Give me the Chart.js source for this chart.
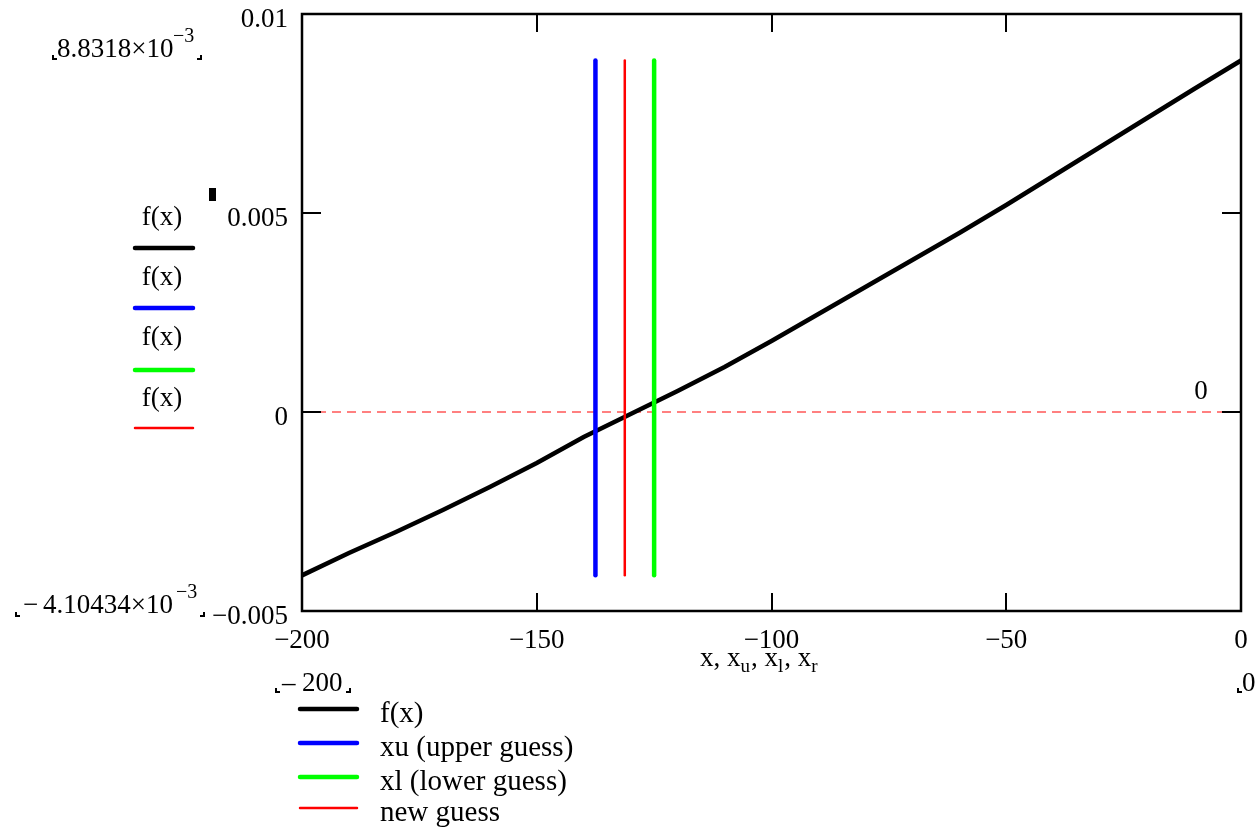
<!DOCTYPE html>
<html>
<head>
<meta charset="utf-8">
<script src="https://cdn.jsdelivr.net/npm/chart.js@4.4.0/dist/chart.umd.min.js"></script>
<style>
  html, body { margin: 0; padding: 0; background: #fff; }
  #wrap { width: 1257px; height: 828px; }
</style>
</head>
<body>
<div id="wrap"><canvas id="bisectChart" width="1257" height="828"></canvas></div>
<script>
// f(x) sampled every 10 along x
const xValues = [-200, -190, -180, -170, -160, -150, -140, -130, -120, -110, -100,
  -90, -80, -70, -60, -50, -40, -30, -20, -10, 0];
const fValues = [-4.10434e-3, -3.543e-3, -3.015e-3, -2.462e-3, -1.884e-3, -1.281e-3,
  -0.628e-3, -0.050e-3, 0.528e-3, 1.131e-3, 1.784e-3, 2.462e-3, 3.141e-3, 3.819e-3,
  4.497e-3, 5.201e-3, 5.930e-3, 6.658e-3, 7.387e-3, 8.116e-3, 8.8318e-3];

// guesses, drawn as vertical traces from min f to max f
const xuLine = [-137.5, -137.5];
const xlLine = [-125, -125];
const xrLine = [-131.25, -131.25];
const guessSpan = [-4.10434e-3, 8.8318e-3];

// marker at y = 0
const zeroX = [-200, 0];
const zeroY = [0, 0];

const xTicks = [-200, -150, -100, -50, 0];
const xTickLabels = ['\u2212200', '\u2212150', '\u2212100', '\u221250', '0'];
const yTicks = [-0.005, 0, 0.005, 0.01];
const yTickLabels = ['\u22120.005', '0', '0.005', '0.01'];

const seriesNames = ['f(x)', 'xu (upper guess)', 'xl (lower guess)', 'new guess'];
const seriesColors = ['#000000', '#0000ff', '#00ff00', '#ff0000'];
const seriesWidths = [4.5, 4.5, 4.5, 2.5];

const FONT = '"Liberation Serif", "Times New Roman", serif';

function pts(xs, ys) {
  return xs.map((x, i) => ({ x: x, y: ys[i] }));
}

const datasets = [
  { label: seriesNames[0], data: pts(xValues, fValues), order: 5 },
  { label: seriesNames[1], data: pts(xuLine, guessSpan), order: 3 },
  { label: seriesNames[2], data: pts(xlLine, guessSpan), order: 2 },
  { label: seriesNames[3], data: pts(xrLine, guessSpan), order: 1 }
].map((d, i) => Object.assign(d, {
  showLine: true,
  borderColor: seriesColors[i],
  borderWidth: seriesWidths[i],
  borderCapStyle: 'round',
  pointRadius: 0,
  tension: 0
}));

datasets.push({
  label: 'zero',
  data: pts(zeroX, zeroY),
  showLine: true,
  borderColor: '#ff8080',
  borderWidth: 2,
  borderDash: [9, 6],
  pointRadius: 0,
  order: 10
});

// frame, inner ticks and the Mathcad-style side texts
const mathcadDecor = {
  id: 'mathcadDecor',
  afterDraw(chart) {
    const ctx = chart.ctx;
    const a = chart.chartArea;
    const xs = chart.scales.x, ys = chart.scales.y;
    ctx.save();

    // inner tick marks
    ctx.strokeStyle = '#000';
    ctx.lineWidth = 2;
    ctx.beginPath();
    xTicks.slice(1, -1).forEach(v => {
      const px = Math.round(xs.getPixelForValue(v));
      ctx.moveTo(px, a.bottom); ctx.lineTo(px, a.bottom - 18);
      ctx.moveTo(px, a.top); ctx.lineTo(px, a.top + 18);
    });
    yTicks.slice(1, -1).forEach(v => {
      const py = Math.round(ys.getPixelForValue(v));
      ctx.moveTo(a.left, py); ctx.lineTo(a.left + 19, py);
      ctx.moveTo(a.right, py); ctx.lineTo(a.right - 19, py);
    });
    ctx.stroke();

    // frame
    ctx.lineWidth = 2.5;
    ctx.strokeRect(a.left, a.top, a.right - a.left, a.bottom - a.top);

    ctx.fillStyle = '#000';
    ctx.textBaseline = 'alphabetic';
    ctx.textAlign = 'left';

    function corner(x, y, right) {
      ctx.fillRect(x, y - 4, 2, 5);
      ctx.fillRect(right ? x - 3 : x, y - 1, 5, 2);
    }

    // y-range limits on the left
    ctx.font = '27px ' + FONT;
    ctx.fillText('8.8318\u00d710', 57, 57);
    ctx.font = '20px ' + FONT;
    ctx.fillText('\u22123', 173, 42);
    corner(52, 59, false); corner(200, 59, true);

    ctx.font = '27px ' + FONT;
    ctx.fillText('\u2212', 23, 613);
    ctx.fillText('4.10434\u00d710', 43, 613);
    ctx.font = '20px ' + FONT;
    ctx.fillText('\u22123', 176, 598);
    corner(15, 616, false); corner(203, 616, true);

    // trace labels on the left
    const traceText = [225, 285, 345, 406];
    const traceLine = [248, 308, 370, 428];
    ctx.font = '27px ' + FONT;
    ctx.textAlign = 'center';
    for (let i = 0; i < 4; i++) {
      ctx.fillText('f(x)', 162, traceText[i]);
      ctx.strokeStyle = seriesColors[i];
      ctx.lineWidth = seriesWidths[i];
      ctx.lineCap = 'round';
      ctx.beginPath();
      ctx.moveTo(135, traceLine[i]); ctx.lineTo(193, traceLine[i]);
      ctx.stroke();
    }
    ctx.fillRect(209, 188, 7, 13);

    // marker value
    ctx.font = '27px ' + FONT;
    ctx.fillText('0', 1201, 399);

    // x-range limits under the axis
    ctx.textAlign = 'left';
    ctx.fillText('\u2013', 282, 691);
    ctx.fillText('200', 302, 691);
    corner(275, 692, false); corner(349, 692, true);
    corner(1237, 692, false);
    ctx.fillText('0.0', 1242, 691);

    // axis title with subscripts
    let tx = 700;
    const parts = [['x, x', 0], ['u', 1], [', x', 0], ['l', 1], [', x', 0], ['r', 1]];
    parts.forEach(p => {
      ctx.font = (p[1] ? '19px ' : '27px ') + FONT;
      const by = p[1] ? 672 : 666;
      ctx.fillText(p[0], tx, by);
      tx += ctx.measureText(p[0]).width + (p[1] ? 1 : 0);
    });

    // legend
    const legLine = [709, 743, 777, 808];
    ctx.font = '29px ' + FONT;
    for (let i = 0; i < 4; i++) {
      ctx.strokeStyle = seriesColors[i];
      ctx.lineWidth = seriesWidths[i];
      ctx.lineCap = 'round';
      ctx.beginPath();
      ctx.moveTo(300, legLine[i]); ctx.lineTo(357, legLine[i]);
      ctx.stroke();
      ctx.fillText(seriesNames[i], 380, legLine[i] + 13);
    }
    ctx.restore();
  }
};

const bisectChart = new Chart(document.getElementById('bisectChart').getContext('2d'), {
  type: 'scatter',
  data: { datasets: datasets },
  options: {
    responsive: false,
    animation: false,
    layout: { padding: { top: 14, right: 16, left: 0, bottom: 0 } },
    plugins: { legend: { display: false }, tooltip: { enabled: false } },
    scales: {
      x: {
        type: 'linear',
        min: -200,
        max: 0,
        grid: { display: false, drawTicks: false },
        border: { display: false },
        afterBuildTicks: s => { s.ticks = xTicks.map(v => ({ value: v })); },
        afterFit: s => { s.height = 217; s.paddingLeft = 0; s.paddingRight = 0; },
        ticks: {
          padding: 14,
          maxRotation: 0,
          autoSkip: false,
          color: '#000',
          font: { family: FONT, size: 27 },
          callback: (v, i) => xTickLabels[i]
        }
      },
      y: {
        type: 'linear',
        min: -0.005,
        max: 0.01,
        grid: { display: false, drawTicks: false },
        border: { display: false },
        afterBuildTicks: s => { s.ticks = yTicks.map(v => ({ value: v })); },
        afterFit: s => { s.width = 302; s.paddingTop = 0; s.paddingBottom = 0; },
        ticks: {
          padding: 14,
          labelOffset: 6,
          autoSkip: false,
          color: '#000',
          font: { family: FONT, size: 27 },
          callback: (v, i) => yTickLabels[i]
        }
      }
    }
  },
  plugins: [mathcadDecor]
});
</script>
</body>
</html>
